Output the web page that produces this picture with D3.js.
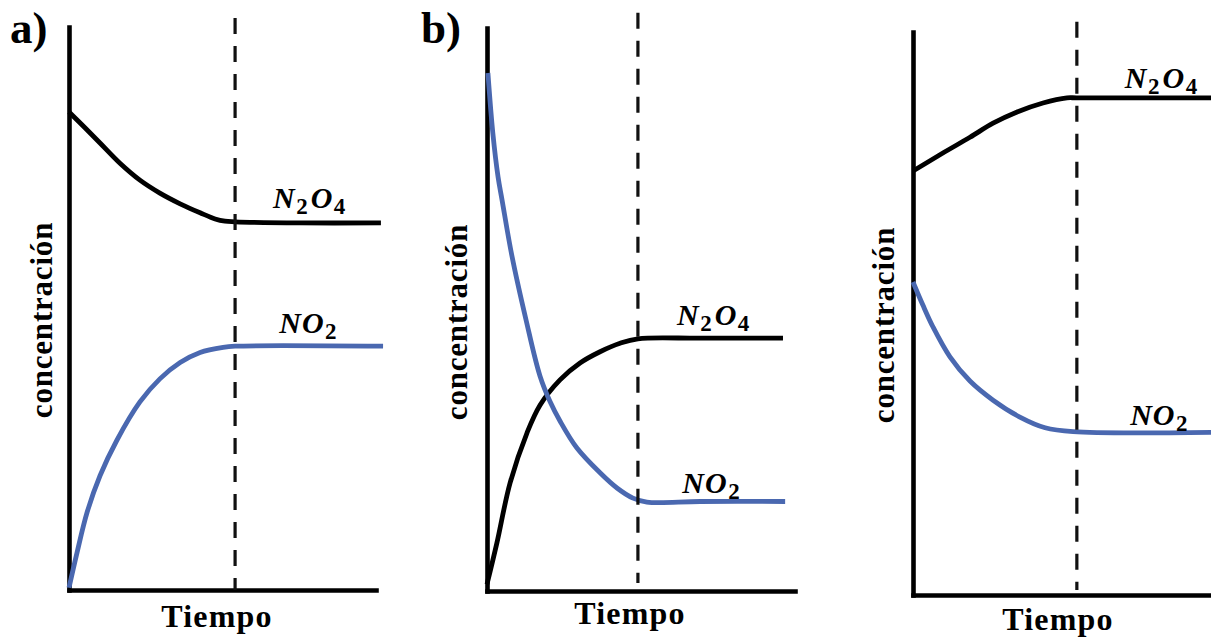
<!DOCTYPE html>
<html><head><meta charset="utf-8">
<script src="https://cdn.jsdelivr.net/npm/d3@7"></script>
<style>body{margin:0;background:#fff}svg{display:block}</style>
</head><body><svg id="chart" width="1211" height="639"></svg>
<script>
// ---------- data (time and concentration in arbitrary units, 0-100 of each axis) ----------
const panelTags = ["a)", "b)", ""];
const xAxisLabel = "Tiempo";
const yAxisLabel = "concentración";

const aN2O4Time = [0, 5.2, 10.1, 16.6, 23.1, 29.6, 36.2, 42.7, 47.6, 50.8, 54.1, 75.2, 101.6];
const aN2O4Conc = [84.9, 82.1, 79.4, 75.8, 72.8, 70.5, 68.6, 67.0, 65.9, 65.5, 65.4, 65.2, 65.2];
const aNO2Time  = [0, 2.6, 5.9, 10.1, 15.6, 23.1, 29.6, 36.2, 42.7, 50.2, 54.1, 102.3];
const aNO2Conc  = [0.4, 6.6, 13.8, 20.3, 26.6, 33.4, 37.5, 40.4, 42.2, 43.1, 43.3, 43.3];

const bN2O4Time = [0, 3.2, 7.5, 13.0, 17.2, 23.7, 30.2, 36.7, 43.2, 49.0, 69.2, 96.1];
const bN2O4Conc = [1.2, 8.5, 19.2, 28.1, 33.0, 37.5, 40.5, 42.5, 44.0, 44.8, 44.9, 44.9];
const bNO2Time  = [0.3, 1.9, 3.6, 4.9, 8.1, 12.7, 17.2, 20.5, 23.7, 29.2, 36.7, 42.2, 47.4, 51.9, 69.2, 96.8];
const bNO2Conc  = [92.0, 81.3, 73.5, 69.4, 59.5, 48.1, 38.2, 33.6, 30.2, 25.4, 21.0, 18.3, 16.5, 15.8, 15.9, 15.9];

const cN2O4Time = [0, 9.7, 18.5, 26.0, 33.8, 42.2, 50.0, 53.2, 98];
const cN2O4Conc = [75.3, 78.5, 81.3, 83.8, 85.8, 87.4, 88.3, 88.3, 88.3];
const cNO2Time  = [0, 3.2, 6.5, 12.0, 18.5, 26.0, 34.7, 42.9, 52.0, 98];
const cNO2Conc  = [55.6, 51.5, 47.6, 42.3, 38.0, 34.6, 31.6, 29.7, 29.0, 28.9];

const equilibriumTime = [54.1, 49.0, 53.2];
const equilibriumTop  = [101.6, 102.7, 101.8];
const equilibriumBottom = [0, 1.4, 0.9];

const labelN2O4Time = [77.9, 73.1, 80.2];
const labelN2O4Conc = [67.9, 47.2, 90.1];
const labelNO2Time  = [77.5, 72.4, 79.5];
const labelNO2Conc  = [45.6, 17.4, 30.2];

// ---------- layout ----------
const frames = [
  {left: 69,  right: 376,  top: 27, bottom: 590, tagX: 10,  tagY: 43, xlabX: 217,  xlabY: 627, ylabX: 52,  ylabY: 320},
  {left: 487, right: 795,  top: 28, bottom: 591, tagX: 421, tagY: 43, xlabX: 630,  xlabY: 624, ylabX: 467, ylabY: 322},
  {left: 913, right: 1221, top: 32, bottom: 595, tagX: 0,   tagY: 0,  xlabX: 1058, xlabY: 630, ylabX: 894, ylabY: 325}
];
const series = [
  [aN2O4Time, aN2O4Conc, aNO2Time, aNO2Conc],
  [bN2O4Time, bN2O4Conc, bNO2Time, bNO2Conc],
  [cN2O4Time, cN2O4Conc, cNO2Time, cNO2Conc]
];
const BLUE = "#4a68b0";
const SERIF = "'Liberation Serif', 'Times New Roman', serif";

const svg = d3.select("#chart");
svg.append("rect").attr("width", 1211).attr("height", 639).attr("fill", "#fff");

function chemLabel(g, xpos, ypos, parts) {
  const t = g.append("text").attr("x", xpos).attr("y", ypos)
    .attr("text-anchor", "middle").attr("font-family", SERIF)
    .attr("font-weight", "bold").attr("fill", "#000");
  let shifted = false;
  parts.forEach(([s, sub]) => {
    const ts = t.append("tspan").text(s);
    if (sub) {
      ts.attr("font-size", 23).attr("font-style", "normal").attr("dy", 6).attr("dx", 1.5);
      shifted = true;
    } else {
      ts.attr("font-size", 30).attr("font-style", "italic");
      if (shifted) { ts.attr("dy", -6).attr("dx", 3); shifted = false; }
      else ts.attr("dx", 1);
    }
  });
}

frames.forEach((f, i) => {
  const g = svg.append("g");
  const x = d3.scaleLinear().domain([0, 100]).range([f.left, f.right]);
  const y = d3.scaleLinear().domain([0, 100]).range([f.bottom, f.top]);

  // axes without ticks
  const xa = g.append("g").attr("transform", `translate(0,${f.bottom})`)
    .call(d3.axisBottom(x).tickValues([]).tickSizeOuter(0));
  const ya = g.append("g").attr("transform", `translate(${f.left},0)`)
    .call(d3.axisLeft(y).tickValues([]).tickSizeOuter(0));
  [xa, ya].forEach(a => a.select(".domain").attr("stroke", "#000")
    .attr("stroke-width", 4.6).attr("stroke-linecap", "square"));

  const line = d3.line().x(d => x(d[0])).y(d => y(d[1])).curve(d3.curveCatmullRom.alpha(0.5));
  const [t1, c1, t2, c2] = series[i];
  g.append("path").datum(d3.zip(t1, c1)).attr("d", line)
    .attr("fill", "none").attr("stroke", "#000").attr("stroke-width", 4.8);
  g.append("path").datum(d3.zip(t2, c2)).attr("d", line)
    .attr("fill", "none").attr("stroke", BLUE).attr("stroke-width", 4.8);

  // equilibrium dashed line
  g.append("line")
    .attr("x1", x(equilibriumTime[i])).attr("x2", x(equilibriumTime[i]))
    .attr("y1", y(equilibriumTop[i])).attr("y2", y(equilibriumBottom[i]))
    .attr("stroke", "#111").attr("stroke-width", 3.2).attr("stroke-dasharray", "16,12");

  chemLabel(g, x(labelN2O4Time[i]), y(labelN2O4Conc[i]), [["N"], ["2", true], ["O"], ["4", true]]);
  chemLabel(g, x(labelNO2Time[i]), y(labelNO2Conc[i]), [["N"], ["O"], ["2", true]]);

  g.append("text").attr("x", f.xlabX).attr("y", f.xlabY).attr("text-anchor", "middle")
    .attr("font-family", SERIF).attr("font-weight", "bold").attr("font-size", 32)
    .attr("letter-spacing", 1.2).text(xAxisLabel);
  g.append("text").attr("transform", `translate(${f.ylabX},${f.ylabY}) rotate(-90)`)
    .attr("text-anchor", "middle")
    .attr("font-family", SERIF).attr("font-weight", "bold").attr("font-size", 31)
    .attr("letter-spacing", 0.8).text(yAxisLabel);

  if (panelTags[i]) {
    g.append("text").attr("x", f.tagX).attr("y", f.tagY)
      .attr("font-family", SERIF).attr("font-weight", "bold").attr("font-size", 45)
      .text(panelTags[i]);
  }
});
</script></body></html>
